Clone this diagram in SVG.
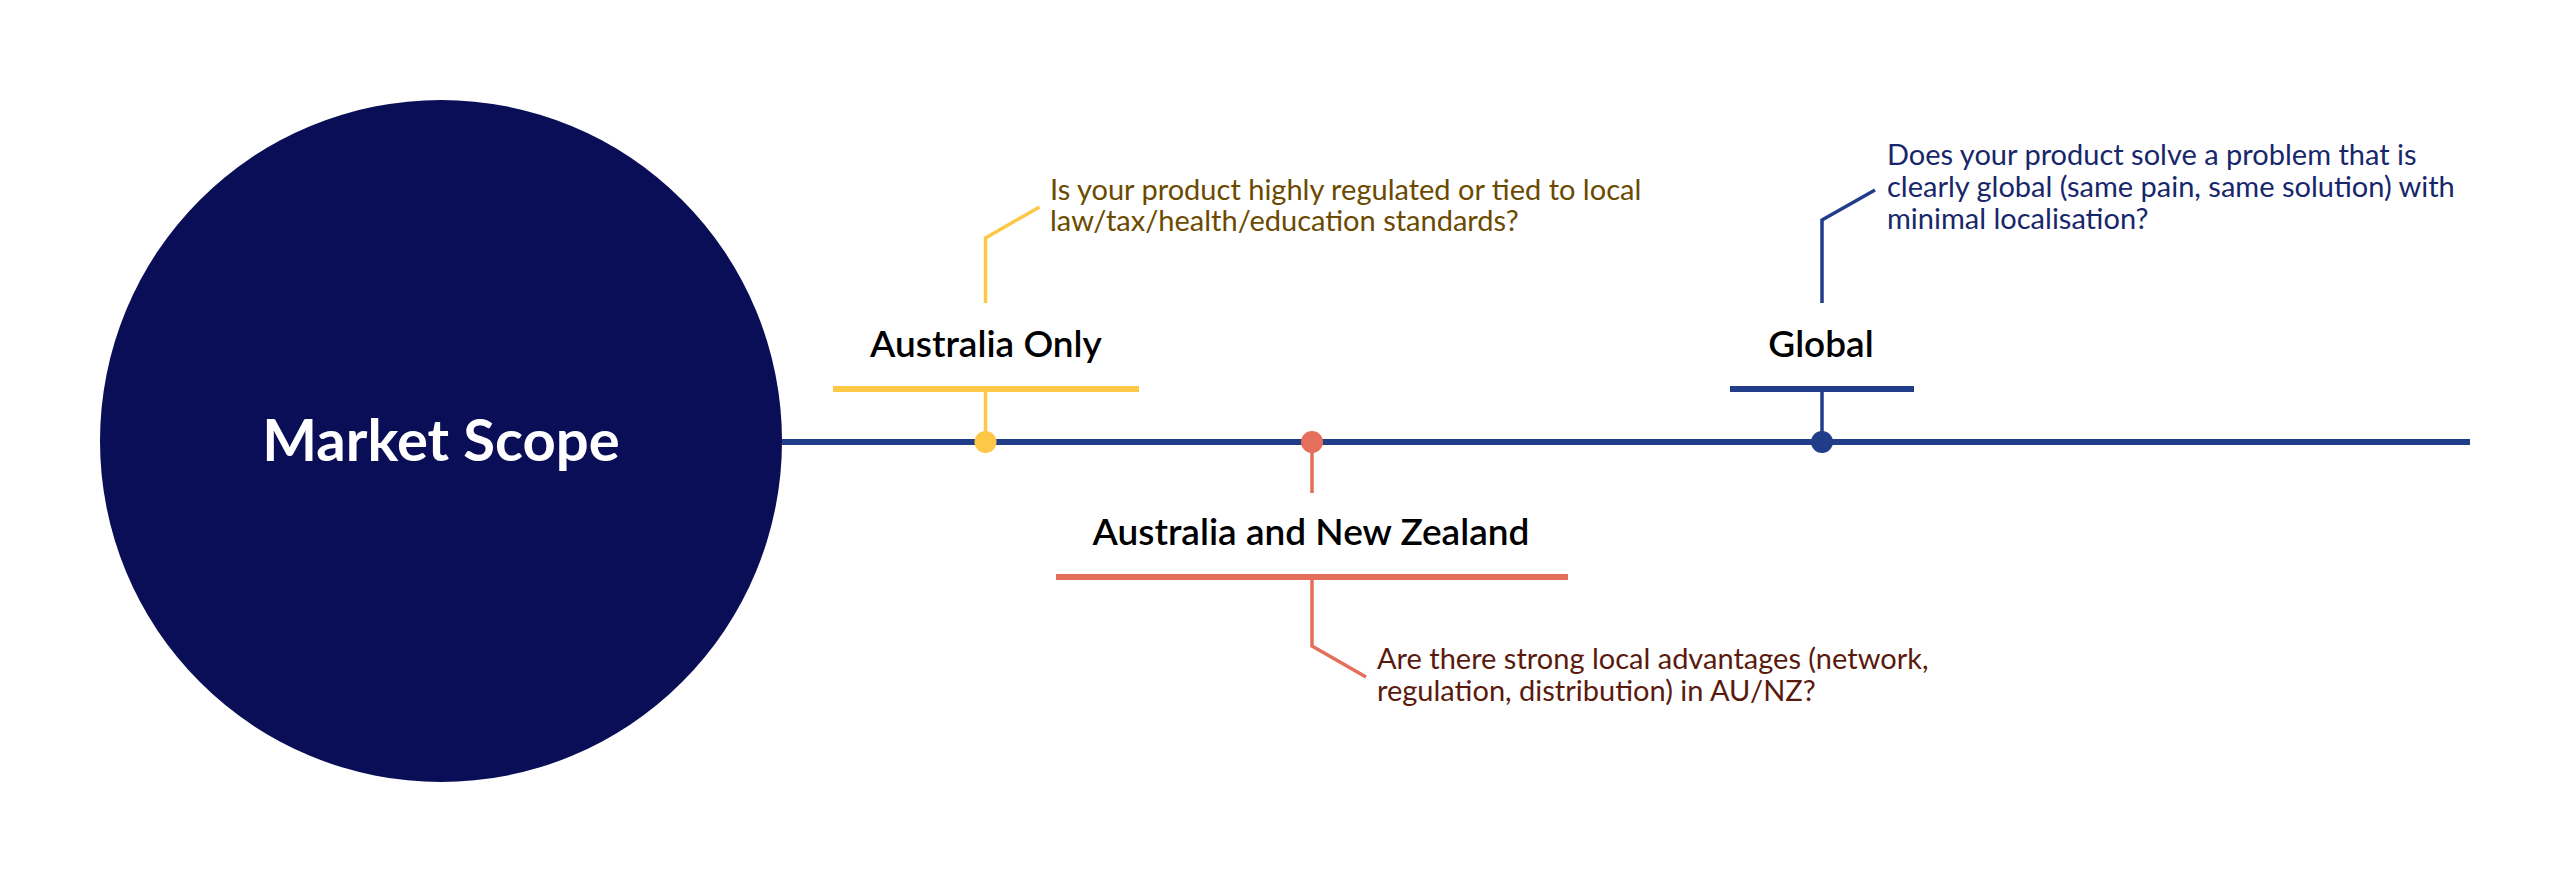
<svg xmlns="http://www.w3.org/2000/svg" width="2572" height="884" viewBox="0 0 2572 884">
<style>
.lbl{font-family:Lato,"Liberation Sans",sans-serif;font-size:37px;font-weight:600;fill:#000}
.q{font-family:Lato,"Liberation Sans",sans-serif;font-size:29px}
.c{fill:none;stroke-width:3.5;stroke-linejoin:miter}
</style>
<rect width="2572" height="884" fill="#fff"/>
<g id="connectors">
<line x1="782" y1="442" x2="2470" y2="442" stroke="#213D8A" stroke-width="6"/>
<line x1="985.5" y1="388" x2="985.5" y2="442" stroke="#FDC848" stroke-width="3.5"/>
<polyline class="c" stroke="#FDC848" points="985.5,303 985.5,238 1039.5,207"/>
<line x1="1312" y1="442" x2="1312" y2="493" stroke="#E46F5A" stroke-width="3.5"/>
<polyline class="c" stroke="#E46F5A" points="1312,580 1312,646 1366,677"/>
<line x1="1822" y1="389" x2="1822" y2="442" stroke="#213D8A" stroke-width="3.5"/>
<polyline class="c" stroke="#213D8A" points="1822,303 1822,220 1875,190"/>
</g>
<g id="market-scope">
<circle cx="441" cy="441" r="341" fill="#090E57"/>
<text x="441" y="461" text-anchor="middle" font-family="Lato,'Liberation Sans',sans-serif" font-size="58" font-weight="bold" fill="#fff">Market Scope</text>
</g>
<g id="australia-only">
<circle cx="985.5" cy="442" r="11" fill="#FDC848"/>
<rect x="833" y="386" width="306" height="6" fill="#FDC848"/>
<text class="lbl" x="986" y="357" text-anchor="middle">Australia Only</text>
<text class="q" fill="#6B4A00"><tspan x="1050" y="200">Is your product highly regulated or tied to local</tspan><tspan x="1050" y="231">law/tax/health/education standards?</tspan></text>
</g>
<g id="anz">
<circle cx="1312" cy="442" r="11" fill="#E46F5A"/>
<rect x="1056" y="574" width="512" height="6" fill="#E46F5A"/>
<text class="lbl" x="1311" y="545" text-anchor="middle">Australia and New Zealand</text>
<text class="q" fill="#5A1A0E"><tspan x="1377" y="669">Are there strong local advantages (network,</tspan><tspan x="1377" y="701">regulation, distribution) in AU/NZ?</tspan></text>
</g>
<g id="global">
<circle cx="1822" cy="442" r="11" fill="#213D8A"/>
<rect x="1730" y="386" width="184" height="6" fill="#213D8A"/>
<text class="lbl" x="1821" y="357" text-anchor="middle">Global</text>
<text class="q" fill="#17276A"><tspan x="1887" y="165">Does your product solve a problem that is</tspan><tspan x="1887" y="197">clearly global (same pain, same solution) with</tspan><tspan x="1887" y="229">minimal localisation?</tspan></text>
</g>
</svg>
